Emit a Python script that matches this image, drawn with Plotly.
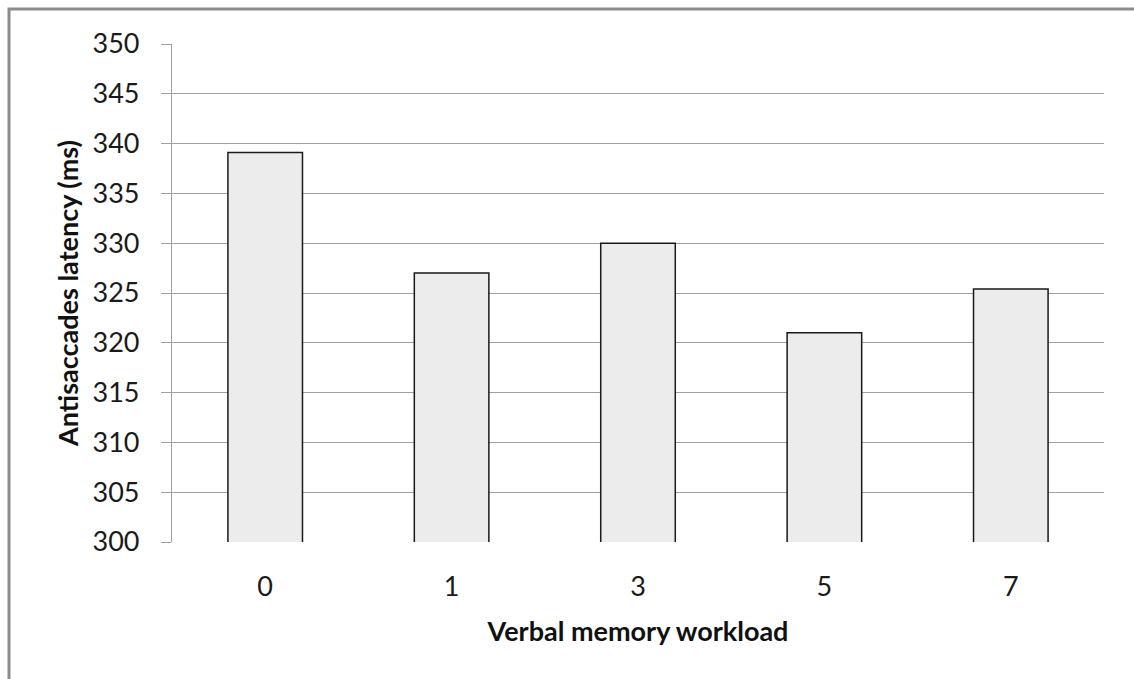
import plotly.graph_objects as go

categories = ["0", "1", "3", "5", "7"]
latency = [339.1, 327.0, 330.0, 321.0, 325.4]
y_ticks = [300, 305, 310, 315, 320, 325, 330, 335, 340, 345, 350]

W, H = 1134, 679
L, T = 172, 44
pw, ph = 932, 498
R, B = W - L - pw, H - T - ph

fig = go.Figure(go.Bar(
    x=categories, y=latency,
    width=0.4,
    marker=dict(color="#ececec", line=dict(color="#1a1a1a", width=1.5)),
    showlegend=False,
))

font_family = "Lato, 'Open Sans', sans-serif"

fig.update_layout(
    width=W, height=H,
    margin=dict(l=L, r=R, t=T, b=B, pad=0),
    paper_bgcolor="white", plot_bgcolor="white",
    font=dict(family=font_family, size=27, color="#1a1a1a"),
    xaxis=dict(
        type="category",
        showgrid=False, showline=False, zeroline=False,
        ticks="", ticklabelstandoff=26,
        tickfont=dict(size=27, color="#1a1a1a"),
        title=dict(text="<b>Verbal memory workload</b>", font=dict(size=27, color="#111"), standoff=21),
    ),
    yaxis=dict(
        range=[300, 350], tickvals=y_ticks,
        showgrid=True, gridcolor="#a0a0a0", gridwidth=1.2,
        showline=True, linecolor="#a0a0a0", linewidth=1.2,
        ticks="outside", ticklen=10, tickcolor="#a0a0a0", tickwidth=1.2,
        ticklabelstandoff=16,
        zeroline=False,
        tickfont=dict(size=27, color="#1a1a1a"),
        title=dict(text="<b>Antisaccades latency (ms)</b>", font=dict(size=27, color="#111"), standoff=6),
    ),
    shapes=[dict(
        type="rect", xref="paper", yref="paper",
        x0=(9 - L) / pw, x1=1.3,
        y0=-0.5, y1=(H - B - 9) / ph,
        line=dict(color="#8c8c8c", width=3),
        fillcolor="rgba(0,0,0,0)", layer="above",
    )],
)

fig.write_html(
    "out.html",
    config={"displayModeBar": False},
    post_script="document.body.style.margin='0';document.body.style.overflow='hidden';",
)
